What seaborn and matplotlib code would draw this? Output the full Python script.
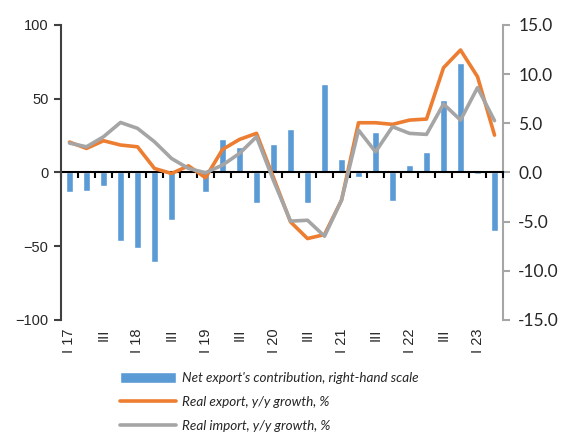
import numpy as np
import pandas as pd
import seaborn as sns
import matplotlib.pyplot as plt

quarters = ['I 17', 'II', 'III', 'IV', 'I 18', 'II', 'III', 'IV',
            'I 19', 'II', 'III', 'IV', 'I 20', 'II', 'III', 'IV',
            'I 21', 'II', 'III', 'IV', 'I 22', 'II', 'III', 'IV',
            'I 23', 'II']
# net export contribution (right-hand scale)
net_export = [-2.0, -1.9, -1.4, -7.0, -7.7, -9.1, -4.8, 0.0,
              -2.0, 3.4, 2.6, -3.1, 2.9, 4.4, -3.1, 9.0,
              1.4, -0.5, 4.1, -2.9, 0.8, 2.1, 7.4, 11.1,
              -0.2, -6.0]
real_export = [20.6, 16.3, 21.5, 18.6, 17.4, 2.7, -0.7, 4.5,
               -3.6, 15.6, 22.4, 26.5, -3.5, -33.5, -44.8, -42.1,
               -18.8, 33.7, 33.7, 32.6, 35.5, 36.2, 71.0, 83.0,
               64.9, 25.3]
real_import = [19.9, 17.4, 24.2, 33.9, 29.9, 20.8, 9.5, 2.7,
               -0.2, 5.0, 12.9, 24.2, -5.5, -33.0, -32.4, -43.2,
               -18.8, 28.7, 14.0, 31.0, 26.5, 25.8, 46.4, 35.5,
               57.5, 35.1]

df = pd.DataFrame({'pos': np.arange(len(quarters)), 'quarter': quarters,
                   'net': net_export, 'exp': real_export, 'imp': real_import})

sns.set_style('white')
plt.rcParams['font.family'] = ['Liberation Sans', 'DejaVu Sans']

fig = plt.figure(figsize=(5.7, 4.43), dpi=100)
ax = fig.add_axes([0.107, 0.2777, 0.7755, 0.666])
ax2 = ax.twinx()

sns.barplot(data=df, x='pos', y='net', ax=ax2, color='#5B9BD5',
            saturation=1, width=0.42, label="Net export's contribution, right-hand scale")
sns.lineplot(data=df, x='pos', y='exp', ax=ax, color='#ED7D31', lw=2.6,
             label='Real export, y/y growth, %')
sns.lineplot(data=df, x='pos', y='imp', ax=ax, color='#A5A5A5', lw=2.6,
             label='Real import, y/y growth, %')

ax.set_zorder(ax2.get_zorder() + 1)
ax.patch.set_visible(False)

n = len(quarters)
ax.set_xlim(-0.5, n - 0.5)
ax.set_ylim(-100, 100)
ax.set_yticks([-100, -50, 0, 50, 100])
ax2.set_ylim(-15, 15)
ax2.set_yticks(np.arange(-15, 16, 5))
ax2.set_yticklabels([f'{v:.1f}' for v in np.arange(-15, 16, 5)],
                    family='Lato', fontsize=12.5)

ax.set_xticks(df['pos'][::2])
ax.set_xticklabels(df['quarter'][::2], rotation=90, va='top', fontsize=10.5)
ax.tick_params(axis='x', length=0, pad=6)
ax.tick_params(axis='y', direction='out', length=5, width=1.5, color='#404040',
               left=True, labelsize=10.5, pad=4)
ax2.tick_params(axis='y', direction='out', length=5, width=1.5, color='#A6A6A6',
                right=True, pad=6)
ax.set_xlabel('')
ax.set_ylabel('')
ax2.set_xlabel('')
ax2.set_ylabel('')

for a in (ax, ax2):
    a.spines['top'].set_visible(False)
    a.spines['bottom'].set_visible(False)
ax.spines['right'].set_visible(False)
ax2.spines['left'].set_visible(False)
ax.spines['left'].set_color('#404040')
ax.spines['left'].set_linewidth(1.5)
ax2.spines['right'].set_color('#A6A6A6')
ax2.spines['right'].set_linewidth(1.5)

# zero line with category ticks
sec = ax.secondary_xaxis(0.5)
sec.set_alignment('bottom')
sec.set_xticks(np.arange(-0.5, n, 1))
sec.tick_params(axis='x', direction='out', length=4, width=1.5,
                labelbottom=False, labeltop=False, color='black')
sec.spines['bottom'].set_linewidth(1.5)
sec.spines['bottom'].set_color('black')

h1, l1 = ax2.get_legend_handles_labels()
h2, l2 = ax.get_legend_handles_labels()
for a in (ax, ax2):
    if a.get_legend():
        a.get_legend().remove()
fig.legend(h1 + h2, l1 + l2, loc='upper left', bbox_to_anchor=(0.21, 0.16),
           frameon=False, handlelength=4.2, handleheight=0.9, handletextpad=0.4,
           labelspacing=0.85, borderpad=0, borderaxespad=0,
           prop={'family': 'Lato', 'style': 'italic', 'size': 9.7})

fig.savefig('out.png', dpi=100)
